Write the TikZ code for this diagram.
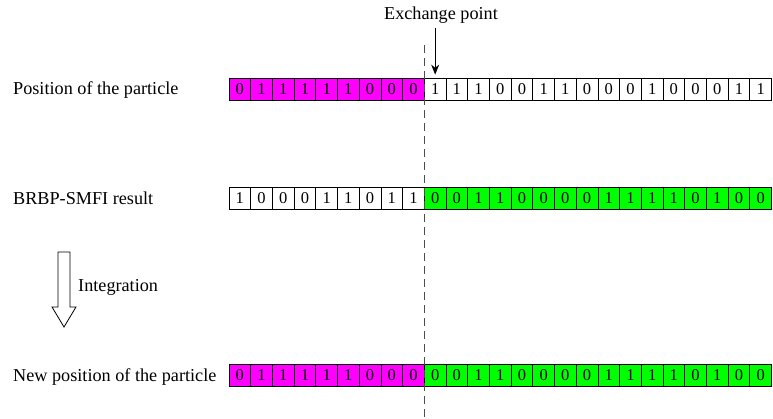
\documentclass[tikz,border=0pt]{standalone}
\usepackage{fontspec}
\setmainfont{Liberation Serif}
\usetikzlibrary{arrows.meta}
\definecolor{bitmag}{RGB}{255,0,255}
\definecolor{bitgreen}{RGB}{0,255,0}
\begin{document}
\begin{tikzpicture}[x=1pt,y=-1pt,
  bitcell/.style={draw=black, line width=0.8pt, minimum width=21.7pt,
    minimum height=22pt, inner sep=0pt, font=\fontsize{16.5}{16}\selectfont},
  lbl/.style={anchor=base west, inner sep=0pt, font=\fontsize{18.2}{18}\selectfont},
  cutline/.style={draw=black!70, line width=1pt, dash pattern=on 8pt off 5pt},
  pointer/.style={line width=0.8pt, -{Stealth[length=10pt,width=8pt]}},
  hollowarrow/.style={draw=black, line width=0.8pt, fill=white}]
\useasboundingbox (0,0) rectangle (773,418);

% row labels
\node[lbl] (l1) at (13,94) {Position of the particle};
\node[lbl] (l2) at (13,204) {BRBP-SMFI result};
\node[lbl] (l3) at (13,381) {New position of the particle};

% bit strings: first 9 bits left of the exchange point, 16 bits right of it
\foreach \b [count=\i] in {0,1,1,1,1,1,0,0,0,1,1,1,0,0,1,1,0,0,0,1,0,0,0,1,1}{
  \ifnum\i<10 \def\cf{bitmag}\else\def\cf{white}\fi
  \node[bitcell, fill=\cf] (r1c\i) at ({229+(\i-0.5)*21.7},89) {\b};
}
\foreach \b [count=\i] in {1,0,0,0,1,1,0,1,1,0,0,1,1,0,0,0,0,1,1,1,1,0,1,0,0}{
  \ifnum\i<10 \def\cf{white}\else\def\cf{bitgreen}\fi
  \node[bitcell, fill=\cf] (r2c\i) at ({229+(\i-0.5)*21.7},198) {\b};
}
\foreach \b [count=\i] in {0,1,1,1,1,1,0,0,0,0,0,1,1,0,0,0,0,1,1,1,1,0,1,0,0}{
  \ifnum\i<10 \def\cf{bitmag}\else\def\cf{bitgreen}\fi
  \node[bitcell, fill=\cf] (r3c\i) at ({229+(\i-0.5)*21.7},375.5) {\b};
}

% exchange point marker
\node[lbl, anchor=base] (exch) at (441,19) {Exchange point};
\coordinate (cuttop) at (424.3,45);
\coordinate (cutbot) at (424.3,418);
\draw[cutline] (cuttop) -- (cutbot);
\draw[pointer, shorten <=5pt, shorten >=3pt] (exch.south -| r1c10.north) -- (r1c10.north);

% integration step
\draw[hollowarrow] (58,252) -- (70,252) -- (70,307) -- (76,307) -- (64,327)
  -- (52,307) -- (58,307) -- cycle;
\node[lbl] (integ) at (78,291) {Integration};
\end{tikzpicture}
\end{document}
